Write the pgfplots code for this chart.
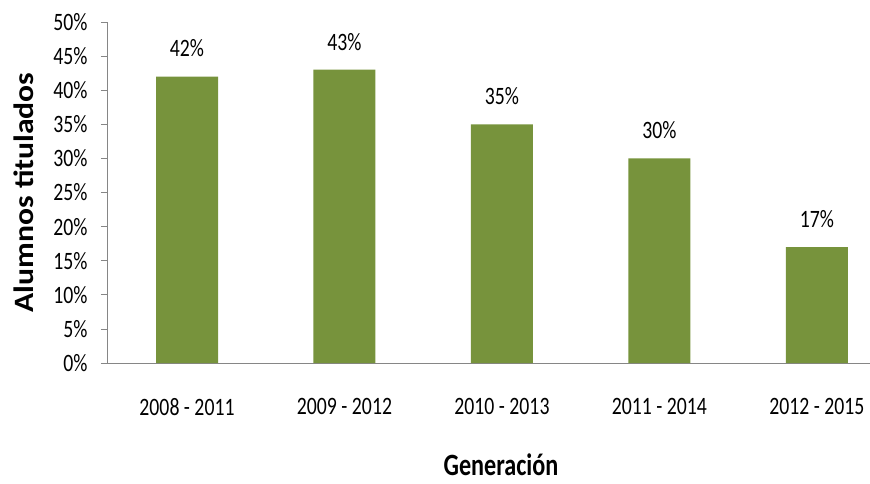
\documentclass[border=0pt]{standalone}
\usepackage{pgfplots}
\pgfplotsset{compat=1.18}
\usepackage{fontspec}
\setmainfont{Carlito}
\newfontfamily\cfont[FakeStretch=0.79]{Carlito}
\newfontfamily\gfont[FakeStretch=0.78]{Carlito}
\newfontfamily\yfont[FakeStretch=1.13]{Carlito}
\definecolor{barg}{RGB}{119,147,60}
\definecolor{axg}{RGB}{134,134,134}
\begin{document}
\begin{tikzpicture}
\begin{axis}[
  at={(107pt,120pt)}, anchor=south west,
  scale only axis, width=763pt, height=341pt,
  xmin=-0.508, xmax=4.337, ymin=0, ymax=50,
  axis x line*=bottom, axis y line*=left,
  axis line style={axg, line width=0.8pt},
  ybar, bar width=62pt,
  ytick={0,5,10,15,20,25,30,35,40,45,50},
  yticklabel={\pgfmathprintnumber{\tick}\%},
  xtick={0,1,2,3,4},
  xticklabels={2008 - 2011, 2009 - 2012, 2010 - 2013, 2011 - 2014, 2012 - 2015},
  tick label style={font=\cfont\fontsize{25}{28}\selectfont, black},
  /pgf/number format/assume math mode=true,
  tick align=outside, major tick length=6pt,
  ytick style={axg, line width=0.8pt},
  xtick style={draw=none},
  xticklabel style={yshift=-26pt},
  yticklabel style={xshift=-10pt},
  xlabel={Generación},
  xlabel style={at={(axis description cs:0.5164,0)}, anchor=center, yshift=-102pt, font=\gfont\bfseries\fontsize{31}{34}\selectfont},
  ylabel={Alumnos titulados},
  ylabel style={at={(axis description cs:-0.1088,0.5)}, anchor=center, rotate=0, font=\yfont\bfseries\fontsize{28}{32}\selectfont},
  nodes near coords={\pgfmathprintnumber{\pgfplotspointmeta}\%},
  nodes near coords style={anchor=center, yshift=28pt, font=\cfont\fontsize{25}{28}\selectfont, black},
]
\addplot[fill=barg, draw=none] coordinates {(0,42) (1,43) (2,35) (3,30) (4,17)};
\end{axis}
\pgfresetboundingbox
\path (0,0) rectangle (870pt,483pt);
\end{tikzpicture}
\end{document}
